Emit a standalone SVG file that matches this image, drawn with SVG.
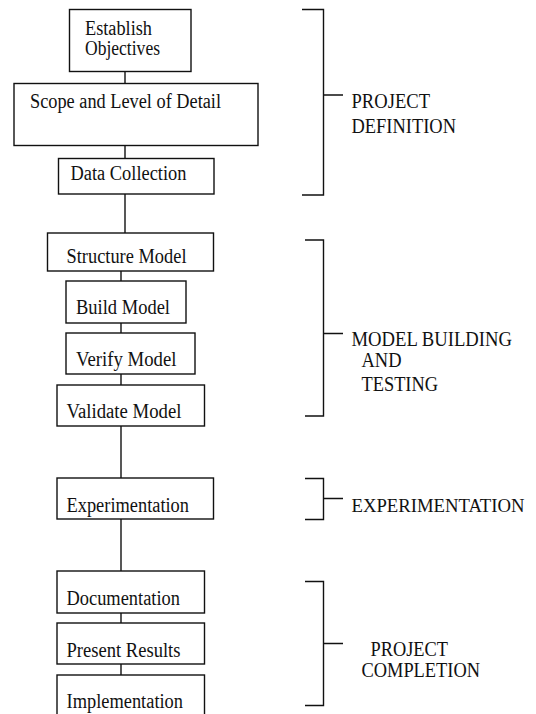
<svg xmlns="http://www.w3.org/2000/svg" width="536" height="714" viewBox="0 0 536 714">
<style>
.box{fill:#fff;stroke:#111;stroke-width:1.4}
.ln{fill:none;stroke:#111;stroke-width:1.4}
text{font-family:"Liberation Serif","Times New Roman",serif;font-size:20.5px;fill:#111}
</style>
<rect width="536" height="714" fill="#fff"/>
<g id="connectors">
<line class="ln" x1="125" y1="71" x2="125" y2="83.5"/>
<line class="ln" x1="125" y1="145.5" x2="125" y2="158.5"/>
<line class="ln" x1="125" y1="194" x2="125" y2="233"/>
<line class="ln" x1="121" y1="271" x2="121" y2="281"/>
<line class="ln" x1="121" y1="323" x2="121" y2="333"/>
<line class="ln" x1="121" y1="374" x2="121" y2="385"/>
<line class="ln" x1="121" y1="426" x2="121" y2="478"/>
<line class="ln" x1="121" y1="519" x2="121" y2="571"/>
<line class="ln" x1="121" y1="613" x2="121" y2="623"/>
<line class="ln" x1="121" y1="664" x2="121" y2="675"/>
</g>
<g id="establish"><rect class="box" x="69.5" y="9.5" width="121.5" height="62"/><text x="85" y="35" textLength="67" lengthAdjust="spacingAndGlyphs">Establish</text><text x="85" y="55" textLength="75" lengthAdjust="spacingAndGlyphs">Objectives</text></g>
<g id="scope"><rect class="box" x="14" y="83.5" width="244" height="62"/><text x="30" y="108" textLength="191" lengthAdjust="spacingAndGlyphs">Scope and Level of Detail</text></g>
<g id="data"><rect class="box" x="58.5" y="158.5" width="155.5" height="35.5"/><text x="70.5" y="180" textLength="116" lengthAdjust="spacingAndGlyphs">Data Collection</text></g>
<g id="structure"><rect class="box" x="47.5" y="233" width="166" height="38"/><text x="66.5" y="263" textLength="120" lengthAdjust="spacingAndGlyphs">Structure Model</text></g>
<g id="build"><rect class="box" x="66" y="281" width="120" height="42"/><text x="76" y="314" textLength="94" lengthAdjust="spacingAndGlyphs">Build Model</text></g>
<g id="verify"><rect class="box" x="66" y="333" width="129" height="41"/><text x="76" y="366" textLength="100.5" lengthAdjust="spacingAndGlyphs">Verify Model</text></g>
<g id="validate"><rect class="box" x="57" y="385" width="147.5" height="41"/><text x="66.5" y="418" textLength="115" lengthAdjust="spacingAndGlyphs">Validate Model</text></g>
<g id="experimentation"><rect class="box" x="57" y="478" width="156.5" height="41"/><text x="66.5" y="511.5" textLength="122.5" lengthAdjust="spacingAndGlyphs">Experimentation</text></g>
<g id="documentation"><rect class="box" x="57" y="571" width="147.5" height="42"/><text x="66.5" y="605" textLength="113.5" lengthAdjust="spacingAndGlyphs">Documentation</text></g>
<g id="present"><rect class="box" x="57" y="623" width="147.5" height="41"/><text x="66.5" y="656.5" textLength="114" lengthAdjust="spacingAndGlyphs">Present Results</text></g>
<g id="implementation"><rect class="box" x="57" y="675" width="147.5" height="50"/><text x="66.5" y="707.5" textLength="116.5" lengthAdjust="spacingAndGlyphs">Implementation</text></g>
<g id="bracket-definition"><path class="ln" d="M302 9.5H323.5V195H302M323.5 95H343"/><text x="351.5" y="108" textLength="78.5" lengthAdjust="spacingAndGlyphs">PROJECT</text><text x="351.5" y="132.5" textLength="104.5" lengthAdjust="spacingAndGlyphs">DEFINITION</text></g>
<g id="bracket-model"><path class="ln" d="M305 240H323.5V416H305M323.5 333.5H343"/><text x="351.5" y="346" textLength="160.5" lengthAdjust="spacingAndGlyphs">MODEL BUILDING</text><text x="361.5" y="366.5" textLength="40" lengthAdjust="spacingAndGlyphs">AND</text><text x="361.5" y="390.5" textLength="76.5" lengthAdjust="spacingAndGlyphs">TESTING</text></g>
<g id="bracket-experimentation"><path class="ln" d="M305 478.5H323.5V519.5H305M323.5 498.5H343"/><text x="351.5" y="511.5" style="font-size:19px" textLength="173" lengthAdjust="spacingAndGlyphs">EXPERIMENTATION</text></g>
<g id="bracket-completion"><path class="ln" d="M305 581.5H323.5V705.5H305M323.5 643.5H343"/><text x="370.5" y="656" textLength="77.5" lengthAdjust="spacingAndGlyphs">PROJECT</text><text x="361.5" y="676.5" textLength="118.5" lengthAdjust="spacingAndGlyphs">COMPLETION</text></g>
</svg>
